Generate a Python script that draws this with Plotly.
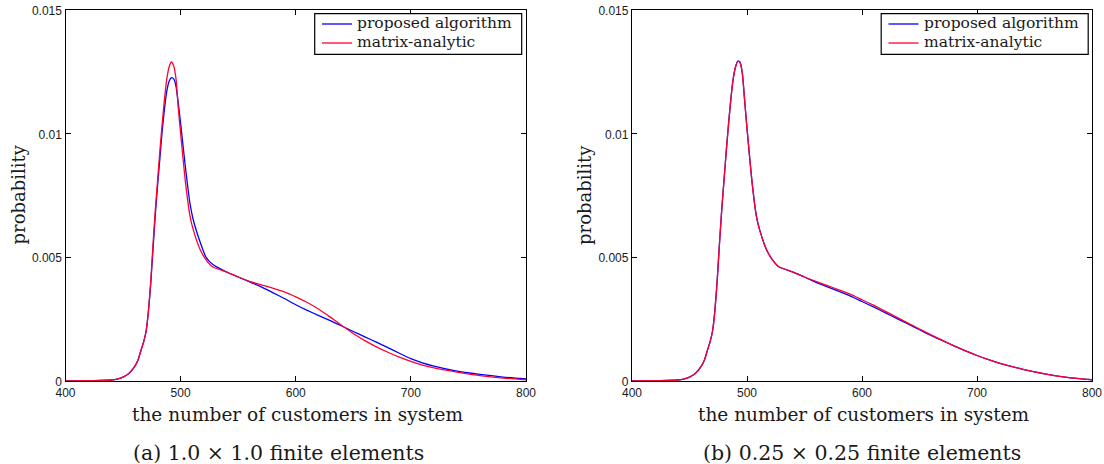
import plotly.graph_objects as go

# ---- data ----
n = [400, 420, 430, 440, 445, 450, 455, 460, 463, 466, 468, 470, 472, 474, 476, 478, 480, 482, 484,
     486, 488, 490, 492, 494, 496, 498, 500, 504, 508, 511, 517, 522, 528, 540, 550, 560, 570, 580,
     590, 600, 610, 620, 630, 640, 650, 660, 670, 680, 690, 700, 710, 720, 740, 760, 780, 800]

red_a = [0, 0.00001, 0.00002, 0.00004, 0.00008, 0.00016, 0.0003, 0.00058, 0.00085, 0.0013, 0.0016,
         0.0020, 0.0028, 0.0040, 0.0055, 0.0069, 0.0081, 0.0093, 0.0104, 0.0114, 0.0122, 0.01268,
         0.01288, 0.01272, 0.0122, 0.0110, 0.0100, 0.0081, 0.0067, 0.0061, 0.0053, 0.0049, 0.0046,
         0.0044, 0.0042, 0.00402, 0.00388, 0.00375, 0.0036, 0.0034, 0.00317, 0.0029, 0.00258,
         0.00224, 0.00192, 0.00163, 0.00138, 0.00116, 0.00096, 0.00079, 0.00064, 0.00053, 0.00036,
         0.00022, 0.00012, 0.00005]

blue_a = [0, 0.00001, 0.00002, 0.00004, 0.00008, 0.00016, 0.0003, 0.00058, 0.00085, 0.0013, 0.0016,
          0.0020, 0.0028, 0.0039, 0.0053, 0.0067, 0.0079, 0.0090, 0.0101, 0.0110, 0.0117, 0.0121,
          0.01225, 0.0122, 0.0119, 0.0112, 0.0104, 0.0087, 0.0072, 0.0065, 0.0056, 0.0050, 0.0047,
          0.0044, 0.0042, 0.0040, 0.0038, 0.00357, 0.00333, 0.00308, 0.00285, 0.00264, 0.00244,
          0.00222, 0.002, 0.00178, 0.00157, 0.00135, 0.00112, 0.0009, 0.00073, 0.0006, 0.0004,
          0.00027, 0.00016, 0.00008]

red_b = [0, 0.00001, 0.00002, 0.00004, 0.00008, 0.00016, 0.0003, 0.00058, 0.00085, 0.0013, 0.0016,
         0.0020, 0.0028, 0.0040, 0.0055, 0.0069, 0.0081, 0.0093, 0.0104, 0.0114, 0.0122, 0.01268,
         0.0129, 0.01285, 0.0124, 0.0113, 0.0102, 0.0082, 0.0067, 0.0061, 0.0053, 0.0049, 0.0046,
         0.0044, 0.0042, 0.00402, 0.00385, 0.00368, 0.0035, 0.00328, 0.00306, 0.00282, 0.00258,
         0.00234, 0.0021, 0.00186, 0.00164, 0.00142, 0.00122, 0.00103, 0.00086, 0.00071, 0.00047,
         0.00028, 0.00014, 0.00005]

blue_b = [0, 0.00001, 0.00002, 0.00004, 0.00008, 0.00016, 0.0003, 0.00058, 0.00085, 0.0013, 0.0016,
          0.0020, 0.0028, 0.0040, 0.0055, 0.0069, 0.0081, 0.0093, 0.0104, 0.0114, 0.0122, 0.01268,
          0.01292, 0.01287, 0.0124, 0.0113, 0.0102, 0.0082, 0.0067, 0.0061, 0.0053, 0.0049, 0.0046,
          0.0044, 0.0042, 0.00398, 0.0038, 0.00362, 0.00343, 0.00321, 0.00299, 0.00276, 0.00253,
          0.0023, 0.00207, 0.00184, 0.00163, 0.00142, 0.00122, 0.00103, 0.00086, 0.00071, 0.00047,
          0.00028, 0.00014, 0.00005]

x_ticks = [400, 500, 600, 700, 800]
y_ticks = [0, 0.005, 0.01, 0.015]
y_tick_labels = ["0", "0.005", "0.01", "0.015"]
series_names = ["proposed algorithm", "matrix-analytic"]
x_title = "the number of customers in system"
y_title = "probability"
captions = ["(a) 1.0 × 1.0 finite elements", "(b) 0.25 × 0.25 finite elements"]

BLUE = "#0000ff"
RED = "#ff0033"
TXT = "#1a1a1a"
SERIF = "DejaVu Serif"
SANS = "Liberation Sans"

W, H = 1104, 464


def px(x):
    return x / W


def py(y):
    return 1 - y / H


fig = go.Figure()

panels = [
    dict(blue=blue_a, red=red_a, xa="x", ya="y", xl=65.5, xr=526, cap_cx=278),
    dict(blue=blue_b, red=red_b, xa="x2", ya="y2", xl=632, xr=1092, cap_cx=862),
]
top_px, bot_px = 9.5, 381

for p in panels:
    fig.add_trace(go.Scatter(x=n, y=p["blue"], mode="lines", name=series_names[0], showlegend=False,
                             line=dict(color=BLUE, width=1.3, shape="spline", smoothing=0.5),
                             xaxis=p["xa"], yaxis=p["ya"]))
    fig.add_trace(go.Scatter(x=n, y=p["red"], mode="lines", name=series_names[1], showlegend=False,
                             line=dict(color=RED, width=1.3, shape="spline", smoothing=0.5),
                             xaxis=p["xa"], yaxis=p["ya"]))

axis_common = dict(showline=True, linecolor="black", linewidth=1.3, mirror="allticks",
                   ticks="inside", ticklen=5, tickcolor="black", showgrid=False, zeroline=False,
                   automargin=False, ticklabeloverflow="allow",
                   tickfont=dict(family=SANS, size=12, color=TXT))

layout = dict(width=W, height=H, margin=dict(l=0, r=0, t=0, b=0, autoexpand=False),
              plot_bgcolor="white", paper_bgcolor="white", showlegend=False)

for i, p in enumerate(panels):
    sfx = "" if i == 0 else "2"
    layout["xaxis" + sfx] = dict(axis_common, domain=[px(p["xl"]), px(p["xr"])], range=[400, 800],
                                 tickvals=x_ticks, anchor="y" + sfx, ticklabelstandoff=0)
    layout["yaxis" + sfx] = dict(axis_common, domain=[py(bot_px), py(top_px)],
                                 range=[0, 0.015], tickvals=y_ticks, ticktext=y_tick_labels,
                                 anchor="x" + sfx, ticklabelshift=1)

fig.update_layout(**layout)

annotations = []
shapes = []
for i, p in enumerate(panels):
    cx = (p["xl"] + p["xr"]) / 2
    annotations.append(dict(x=px(cx + 2), y=py(414), xref="paper", yref="paper", text=x_title,
                            showarrow=False, xanchor="center", yanchor="middle",
                            font=dict(family=SERIF, size=18.5, color=TXT)))
    annotations.append(dict(x=px(p["cap_cx"]), y=py(453), xref="paper", yref="paper", text=captions[i],
                            showarrow=False, xanchor="center", yanchor="middle",
                            font=dict(family=SERIF, size=20.5, color=TXT)))
    annotations.append(dict(x=px(p["xl"] - 48), y=py(195), xref="paper", yref="paper",
                            text=y_title, textangle=-90, showarrow=False,
                            xanchor="center", yanchor="middle",
                            font=dict(family=SERIF, size=18, color=TXT)))
    # legend box (drawn with shapes + text)
    off = p["xl"] - 65.5
    bx0, bx1, by0, by1 = 314.7 + off, 521.7 + off, 13.7, 54.3
    shapes.append(dict(type="rect", xref="paper", yref="paper", layer="above",
                       x0=px(bx0), x1=px(bx1), y0=py(by1), y1=py(by0),
                       line=dict(color="black", width=1.2), fillcolor="white"))
    for k, (col, name) in enumerate(zip([BLUE, RED], series_names)):
        ly = 24 + 19 * k
        shapes.append(dict(type="line", xref="paper", yref="paper", layer="above",
                           x0=px(322 + off), x1=px(352 + off), y0=py(ly), y1=py(ly),
                           line=dict(color=col, width=1.3)))
        annotations.append(dict(x=px(355 + off), y=py(ly - 0.5), xref="paper", yref="paper",
                                text=name, showarrow=False, xanchor="left", yanchor="middle",
                                font=dict(family=SERIF, size=15.5, color=TXT)))
fig.update_layout(annotations=annotations, shapes=shapes)

# remove the browser's default 8px page margin so the figure fills the window exactly,
# and hide the interactive mode bar
fig.write_html("out.html", config={"displayModeBar": False},
               post_script="document.body.style.margin='0';document.body.style.overflow='hidden';")
